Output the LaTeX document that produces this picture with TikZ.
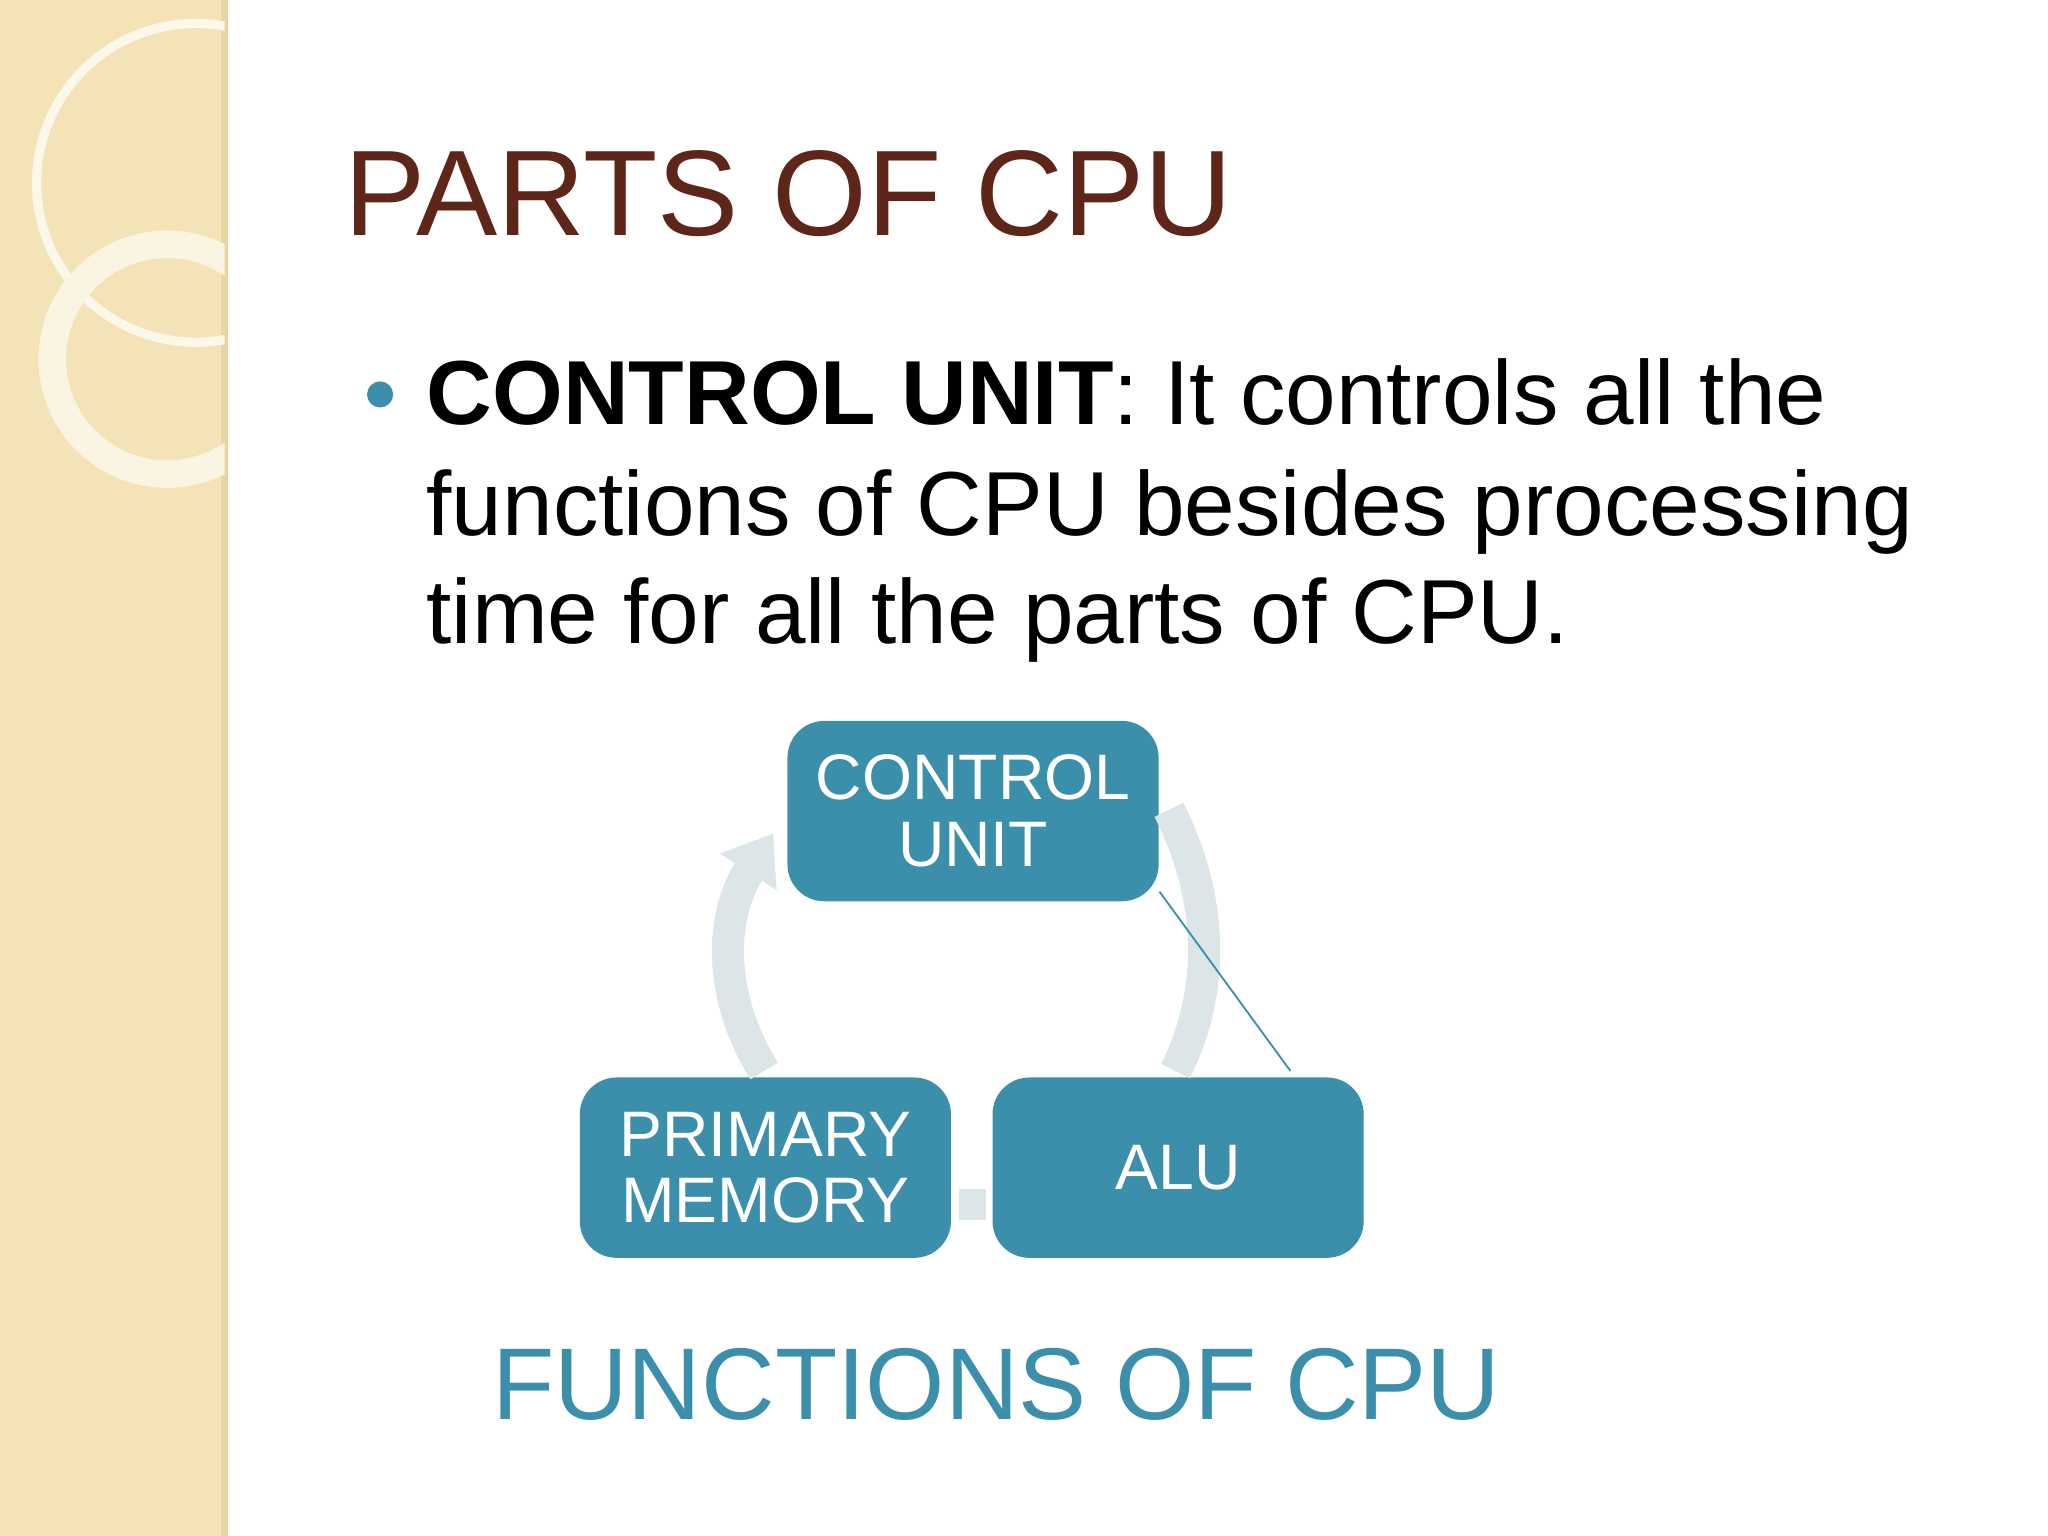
\documentclass[tikz,border=0pt]{standalone}
\usepackage{fontspec}
\setmainfont{Liberation Sans}
\usetikzlibrary{positioning,arrows.meta}
\definecolor{band}{HTML}{F3E3B6}
\definecolor{titlebrown}{HTML}{5E2618}
\definecolor{boxteal}{HTML}{3B8FAA}
\definecolor{arcgray}{HTML}{DCE5E8}
\tikzset{
  part/.style={rounded corners=8pt, fill=boxteal, minimum width=2.84cm, minimum height=1.38cm,
    text=white, align=center, font=\fontsize{14}{14.5}\selectfont, inner sep=0pt},
  body/.style={anchor=base west, inner sep=0pt, font=\fontsize{19.8}{22}\selectfont},
  cycle/.style={line width=7pt, draw=arcgray}
}
\begin{document}
\begin{tikzpicture}[x=0.01cm,y=-0.01cm]
\useasboundingbox (0,0) rectangle (1568,1176);
% background
\fill[band] (0,0) rectangle (172,1176);
\draw[line width=1.5pt, color=band!85!brown] (172,0) -- (172,1176);
\begin{scope}
\clip (0,0) rectangle (172,1176);
\draw[white!70!band, line width=2pt] (150,140) circle (122);
\draw[white!60!band, line width=6pt] (128,275) circle (88);
\end{scope}
% heading and text
\node[anchor=base west, inner sep=0pt, text=titlebrown, font=\fontsize{26.5}{29}\selectfont] (title) at (263,180) {PARTS OF CPU};
\fill[boxteal] (291,302) circle (10);
\node[body] (line1) at (326,325) {\textbf{CONTROL UNIT}: It controls all the};
\node[body] (line2) at (326,410) {functions of CPU besides processing};
\node[body] (line3) at (326,493) {time for all the parts of CPU.};
% cycle
\node[part] (cu) at (745,621) {CONTROL\\UNIT};
\node[part] (mem) at (586,894) {PRIMARY\\MEMORY};
\node[part] (alu) at (902,894) {ALU};
\draw[cycle] (895,620) .. controls (930,690) and (930,760) .. (900,820);
\draw[cycle, -{Triangle[length=10pt,width=14pt]}] (585,820) .. controls (548,760) and (552,700) .. (592,638);
\fill[arcgray] (734,910) rectangle (755,934);
\draw[boxteal, thin] (cu.south east) ++(0,-8) -- (988,820);
\node[anchor=base west, inner sep=0pt, text=boxteal, font=\fontsize{22.2}{25}\selectfont] (fn) at (376,1087) {FUNCTIONS OF CPU};
\end{tikzpicture}
\end{document}
